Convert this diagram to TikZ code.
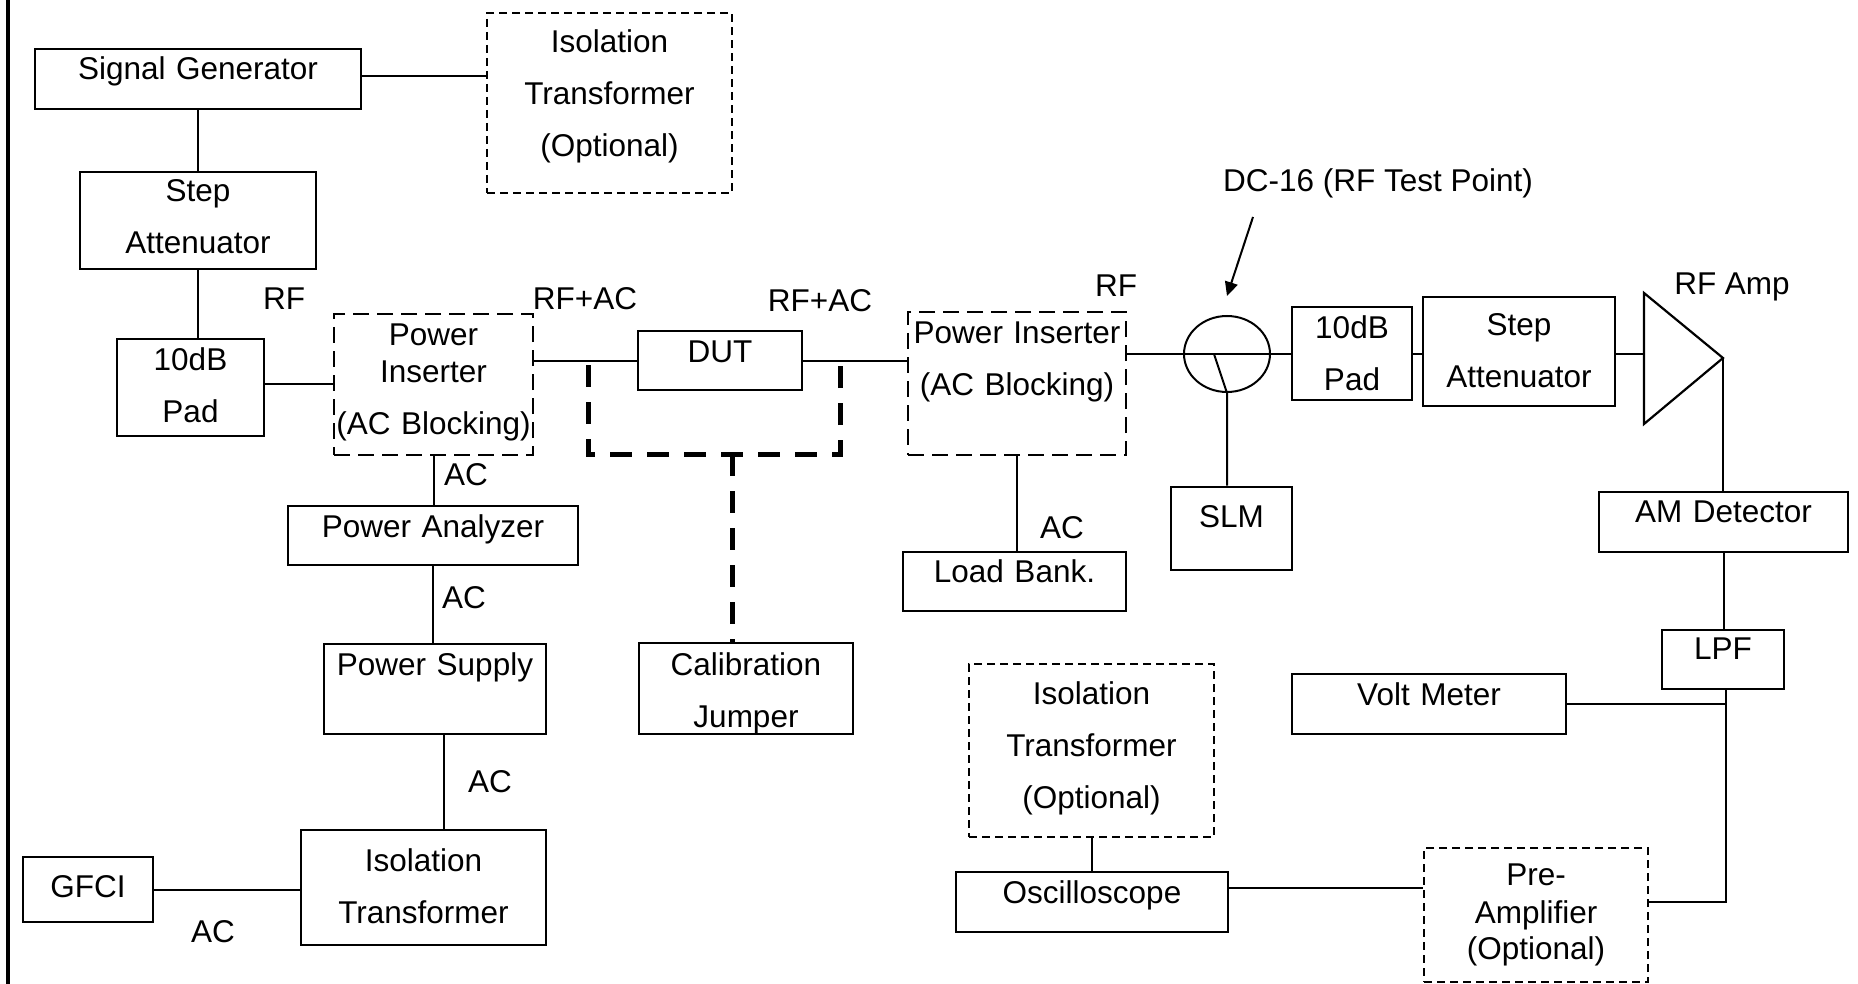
\documentclass[tikz,border=0pt]{standalone}
\usepackage{fontspec}
\setmainfont{Liberation Sans}
\usetikzlibrary{shapes.geometric,arrows.meta}

\begin{document}
\begin{tikzpicture}
[x=1pt,y=-1pt,font=\fontsize{31.5}{52}\selectfont,
blackbox/.style={draw,black,line width=2.8pt,inner sep=0pt,align=center},
dashbox/.style={blackbox,line width=2pt,dash pattern=on 8pt off 5pt},
insertbox/.style={blackbox,dash pattern=on 16pt off 8pt},
blackline/.style={black,line width=2pt},
jumperline/.style={black,line width=5pt,dash pattern=on 22pt off 15pt},
blackarrow/.style={-{Triangle[length=14pt,width=13pt]},black,line width=2pt},
tag/.style={anchor=base,inner sep=0pt}]

\path[use as bounding box,fill=white] (0,0) rectangle (1858,984);

% left edge
\draw[line width=4.5pt] (8,0) -- (8,984);

% signal source
\node[blackbox,text width=326pt,text height=31pt,text depth=29pt] (siggen) at (198,79) {Signal Generator};
\node[dashbox,text width=245pt,text height=40pt,text depth=140pt] (isoa) at (609.5,103) {Isolation\\Transformer\\(Optional)};
\node[blackbox,text width=236pt,text height=30pt,text depth=67pt] (stepa) at (198,220.5) {Step\\Attenuator};
\node[blackbox,text width=147pt,text height=31pt,text depth=66pt] (pada) at (190.5,387.5) {10dB\\Pad};

% power inserter, DUT side
\node[insertbox,text width=199pt,text height=31pt,text depth=110pt] (insa) at (433.5,384.5) {Power\\[-15pt]Inserter\\(AC Blocking)};
\node[blackbox,text width=290pt,text height=31pt,text depth=28pt] (anlz) at (433,535.5) {Power Analyzer};
\node[blackbox,text width=222pt,text height=31pt,text depth=59pt] (supply) at (435,689) {Power Supply};
\node[blackbox,text width=245pt,text height=41pt,text depth=74pt] (isob) at (423.5,887.5) {Isolation\\Transformer};
\node[blackbox,text width=130pt,text height=40pt,text depth=25pt] (gfci) at (88,889.5) {GFCI};

% DUT and jumper
\node[blackbox,text width=164pt,text height=31pt,text depth=28pt] (dut) at (720,360.5) {DUT};
\node[blackbox,text width=214pt,text height=32pt,text depth=59pt] (cal) at (746,688.5) {Calibration\\Jumper};

% power inserter, load side
\node[insertbox,text width=218pt,text height=31pt,text depth=112pt] (insb) at (1017,383.5) {Power Inserter\\(AC Blocking)};
\node[blackbox,text width=223pt,text height=30pt,text depth=29pt] (load) at (1014.5,581.5) {Load Bank.};

% test point
\node[draw,ellipse,line width=2pt,minimum width=86pt,minimum height=76pt,inner sep=0pt] (tp) at (1227,354) {};
\node[blackbox,text width=121pt,text height=40pt,text depth=43pt] (slm) at (1231.5,528.5) {SLM};

% receive chain
\node[blackbox,text width=120pt,text height=31pt,text depth=62pt] (padb) at (1352,353.5) {10dB\\Pad};
\node[blackbox,text width=192pt,text height=38pt,text depth=71pt] (stepb) at (1519,351.5) {Step\\Attenuator};
\draw[blackline,line width=2.2pt] (1644,293) -- (1723,358) -- (1644,424) -- cycle;
\coordinate (ampin) at (1644,354);
\coordinate (ampout) at (1723,358);
\node[blackbox,text width=249pt,text height=30pt,text depth=30pt] (amdet) at (1723.5,522) {AM Detector};
\node[blackbox,text width=122pt,text height=29pt,text depth=30pt] (lpf) at (1723,659.5) {LPF};
\node[blackbox,text width=274pt,text height=31pt,text depth=29pt] (volt) at (1429,704) {Volt Meter};
\node[dashbox,text width=245pt,text height=40pt,text depth=133pt] (isoc) at (1091.5,750.5) {Isolation\\Transformer\\(Optional)};
\node[blackbox,text width=272pt,text height=31pt,text depth=29pt] (scope) at (1092,902) {Oscilloscope};
\node[dashbox,text width=224pt,text height=37pt,text depth=97pt] (pre) at (1536,915) {Pre-\\[-14pt]Amplifier\\[-16pt](Optional)};

% labels
\node[tag] (rfa) at (284,310) {RF};
\node[tag] (rfaca) at (585,310) {RF+AC};
\node[tag] (rfacb) at (820,312) {RF+AC};
\node[tag] (rfb) at (1116,297) {RF};
\node[tag] (aca) at (466,485) {AC};
\node[tag] (acb) at (464,608) {AC};
\node[tag] (acc) at (490,792) {AC};
\node[tag] (acd) at (213,942) {AC};
\node[tag] (ace) at (1062,538) {AC};
\node[tag] (tplabel) at (1378,192) {DC-16 (RF Test Point)};
\node[tag] (amplabel) at (1732,295) {RF Amp};

% wiring
\draw[blackline] ([yshift=3pt]siggen.east) -- ([yshift=3pt]siggen.east -| isoa.west);
\draw[blackline] (siggen.south) -- (stepa.north);
\draw[blackline] (stepa.south) -- (stepa.south |- pada.north);
\draw[blackline] ([yshift=4pt]pada.east) -- ([yshift=4pt]pada.east -| insa.west);
\draw[blackline] (dut.west -| insa.east) -- (dut.west);
\draw[blackline] (dut.east) -- (dut.east -| insb.west);
\draw[blackline] (insa.south) -- (insa.south |- anlz.north);
\draw[blackline] (anlz.south) -- (anlz.south |- supply.north);
\draw[blackline] ([xshift=9pt]supply.south) -- ([xshift=9pt]supply.south |- isob.north);
\draw[blackline] (gfci.east) -- (gfci.east -| isob.west);
\draw[blackline] (insb.south) -- (insb.south |- load.north);
\draw[blackline] (padb.west -| insb.east) -- (padb.west);
\draw[blackline] ([xshift=-13pt]tp.center) -- (tp.south) -- (tp.south |- slm.north);
\draw[blackarrow] ([xshift=-125pt,yshift=-25pt]tplabel.base) -- ([yshift=19pt]tp.north);
\draw[blackline] (padb.east) -- (padb.east -| stepb.west);
\draw[blackline] (stepb.east |- ampin) -- (ampin);
\draw[blackline] (ampout) -- (ampout |- amdet.north);
\draw[blackline] (amdet.south) -- (amdet.south |- lpf.north);
\coordinate (lpfout) at ([xshift=3pt]lpf.south);
\draw[blackline] (lpfout) |- ([yshift=13pt]pre.east);
\draw[blackline] (volt.east) -- (volt.east -| lpfout);
\draw[blackline] (isoc.south) -- (isoc.south |- scope.north);
\draw[blackline] ([yshift=14pt]scope.east) -- ([yshift=14pt]scope.east -| pre.west);

% calibration jumper
\coordinate (jl) at (588,365);
\coordinate (jr) at (840,365);
\coordinate (jm) at (732,454);
\draw[jumperline] (jl) |- (jm) -| (jr);
\draw[jumperline] (jm) -- (jm |- cal.north);

\end{tikzpicture}
\end{document}
